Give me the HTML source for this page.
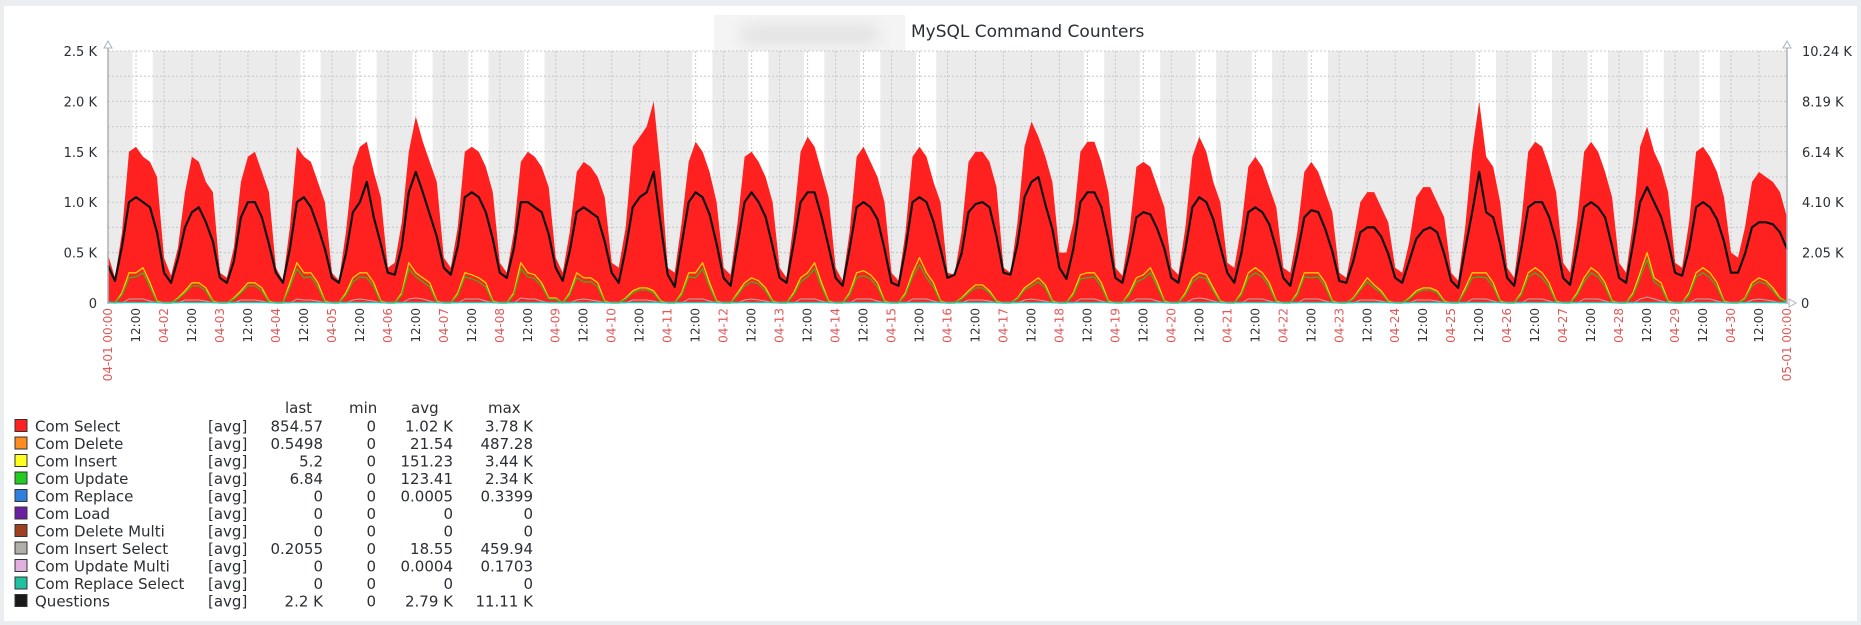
<!DOCTYPE html>
<html><head><meta charset="utf-8"><style>
html,body{margin:0;padding:0;background:#ebeef0;}
svg{display:block;font-family:"DejaVu Sans","Liberation Sans",sans-serif;}
</style></head><body>
<svg id="chart" width="1861" height="625" viewBox="0 0 1861 625">
<defs><filter id="blur" x="-20%" y="-50%" width="140%" height="200%"><feGaussianBlur stdDeviation="8"/></filter></defs>
<rect x="4" y="6" width="1853" height="615" fill="#ffffff"/>
<g>
<rect x="714" y="15" width="191" height="40" fill="#f4f4f4"/>
<rect x="740" y="25" width="140" height="20" rx="10" fill="#e2e2e2" filter="url(#blur)"/>
</g>
<text x="911" y="37" font-size="17" fill="#2a2f33">MySQL Command Counters</text>
<g id="bg"></g>
<g id="grid"></g>
<g id="series"></g>
<g id="axes"></g>
<g id="legend"></g>
</svg>
<script>
// ---- data (values in K) sampled every 3 hours from 04-01 00:00 ----
const selectVals=[
.48,.25,.7,1.5,1.55,1.45,1.4,1.25, .45,.27,.55,1.1,1.45,1.4,1.2,1.1, .3,.25,.55,1.2,1.45,1.5,1.3,1.1,
.35,.22,.75,1.55,1.45,1.4,1.2,1.0, .3,.22,.7,1.35,1.55,1.6,1.3,1.05, .35,.4,.8,1.5,1.85,1.6,1.4,1.2,
.45,.35,.75,1.5,1.55,1.5,1.35,1.1, .4,.3,.7,1.4,1.5,1.45,1.35,1.15, .45,.3,.7,1.3,1.4,1.35,1.25,1.05,
.4,.35,.75,1.55,1.65,1.75,2.0,1.3, .35,.3,.8,1.4,1.6,1.5,1.3,1.0, .35,.28,.8,1.45,1.5,1.4,1.25,1.0,
.35,.25,.8,1.5,1.65,1.55,1.3,1.05, .35,.22,.7,1.45,1.55,1.4,1.25,1.0, .3,.22,.7,1.45,1.55,1.45,1.2,1.0,
.3,.28,.7,1.4,1.5,1.5,1.4,1.15, .35,.3,.8,1.55,1.8,1.65,1.45,1.2, .5,.5,.8,1.5,1.6,1.6,1.4,1.1,
.35,.27,.7,1.35,1.4,1.35,1.15,.95, .35,.28,.75,1.45,1.65,1.5,1.2,1.0, .4,.35,.75,1.35,1.45,1.35,1.15,.95,
.35,.3,.7,1.3,1.4,1.3,1.1,.9, .3,.25,.6,1.0,1.1,1.1,.95,.8, .35,.3,.6,1.05,1.15,1.15,1.0,.85,
.3,.22,.75,1.5,2.0,1.45,1.35,1.0, .35,.25,.8,1.5,1.6,1.55,1.35,1.1, .4,.3,.8,1.5,1.6,1.5,1.3,1.05,
.4,.3,.8,1.55,1.75,1.5,1.35,1.1, .4,.35,.8,1.5,1.55,1.45,1.3,1.05, .5,.45,.75,1.2,1.3,1.25,1.2,1.1, .85];
const questionsVals=[
1.52,.90,2.3,4.10,4.30,4.10,3.89,2.87, 1.23,.82,1.8,3.07,3.69,3.89,3.28,2.5, 1.02,.82,1.7,3.48,4.10,4.10,3.48,2.4,
1.23,.82,2.2,4.10,4.30,3.89,3.1,2.2, 1.02,.82,2.0,3.69,4.10,4.92,3.48,2.4, 1.23,1.15,2.3,4.50,5.33,4.50,3.6,2.7,
1.43,1.15,2.3,4.30,4.50,4.30,3.69,2.6, 1.23,1.02,2.2,4.10,4.10,3.89,3.69,2.8, 1.43,.90,2.1,3.69,3.89,3.69,3.48,2.5,
1.23,.82,2.2,3.89,4.30,4.50,5.33,3.2, 1.15,.66,2.4,4.10,4.50,4.30,3.6,2.4, 1.02,.70,2.4,4.10,4.50,4.10,3.5,2.3,
1.02,.82,2.4,4.10,4.50,4.50,3.5,2.3, 1.02,.70,2.2,3.89,4.10,3.89,3.4,2.2, .82,.70,2.2,4.10,4.30,4.10,3.3,2.2,
1.02,1.15,2.0,3.69,4.02,4.10,3.89,2.7, 1.23,1.15,2.4,4.30,4.92,5.12,4.0,3.0, 1.43,.98,2.2,4.10,4.50,4.50,3.89,2.6,
1.02,.82,2.0,3.48,3.69,3.60,3.0,2.2, 1.02,.82,2.2,3.89,4.30,4.10,3.4,2.3, 1.23,.82,2.0,3.69,3.89,3.69,3.2,2.2,
1.02,.70,2.0,3.48,3.77,3.69,3.0,2.1, .90,.82,1.7,2.87,3.07,3.07,2.7,2.0, 1.02,.82,1.7,2.6,2.95,3.07,2.87,2.0,
.90,.61,2.2,3.69,5.33,3.69,3.48,2.4, 1.02,.70,2.2,3.89,4.10,4.10,3.5,2.5, 1.02,.74,2.2,3.89,4.10,3.89,3.48,2.3,
1.02,.82,2.4,4.10,4.71,4.10,3.5,2.5, 1.23,1.11,2.2,3.89,4.10,3.89,3.4,2.5, 1.23,1.23,2.0,3.07,3.28,3.28,3.20,2.87, 2.2];
const insertVals=[
.01,0,.1,.3,.3,.35,.2,.02, 0,0,.05,.12,.2,.2,.15,.02, 0,0,.05,.12,.2,.2,.15,.02,
0,0,.2,.4,.3,.3,.2,.02, 0,0,.1,.25,.3,.3,.2,.02, 0,0,.1,.4,.3,.25,.2,.02,
0,0,.1,.3,.28,.25,.2,.02, 0,0,.1,.4,.3,.28,.2,.05, .05,0,.1,.3,.25,.25,.2,.02,
0,0,.05,.12,.15,.15,.12,.02, 0,0,.1,.3,.3,.4,.2,.02, 0,0,.1,.2,.25,.22,.15,.02,
0,0,.1,.25,.3,.4,.2,.02, 0,0,.1,.3,.32,.28,.2,.02, 0,0,.1,.3,.45,.3,.2,.02,
0,0,.05,.12,.18,.18,.12,.02, 0,0,.05,.15,.2,.25,.18,.02, 0,0,.1,.28,.3,.3,.2,.02,
0,0,.1,.25,.28,.35,.2,.02, 0,0,.1,.25,.3,.28,.15,.02, 0,0,.1,.3,.35,.3,.2,.02,
0,0,.1,.3,.3,.3,.2,.02, 0,0,.05,.15,.25,.18,.12,.02, 0,0,.05,.12,.15,.15,.12,.02,
0,0,.15,.3,.3,.3,.2,.02, 0,0,.1,.3,.35,.3,.2,.02, 0,0,.1,.25,.35,.3,.2,.02,
0,0,.1,.3,.5,.25,.2,.02, 0,0,.1,.3,.35,.3,.2,.02, 0,0,.05,.2,.25,.22,.15,.05, .01];
const updateVals=[
.01,0,.08,.25,.26,.3,.16,.01, 0,0,.04,.1,.17,.17,.12,.01, 0,0,.04,.1,.17,.17,.12,.01,
0,0,.16,.34,.25,.26,.16,.01, 0,0,.08,.21,.26,.25,.16,.01, 0,0,.08,.34,.26,.21,.16,.01,
0,0,.08,.26,.24,.21,.16,.01, 0,0,.08,.34,.26,.24,.17,.04, .04,0,.08,.25,.21,.21,.16,.01,
0,0,.04,.1,.13,.13,.1,.01, 0,0,.08,.26,.25,.34,.16,.01, 0,0,.08,.17,.21,.19,.12,.01,
0,0,.08,.21,.26,.34,.16,.01, 0,0,.08,.25,.27,.24,.16,.01, 0,0,.08,.26,.38,.25,.16,.01,
0,0,.04,.1,.15,.15,.1,.01, 0,0,.04,.13,.17,.21,.15,.01, 0,0,.08,.24,.25,.26,.16,.01,
0,0,.08,.21,.24,.3,.16,.01, 0,0,.08,.21,.26,.24,.12,.01, 0,0,.08,.25,.3,.26,.16,.01,
0,0,.08,.26,.25,.26,.16,.01, 0,0,.04,.13,.21,.15,.1,.01, 0,0,.04,.1,.13,.13,.1,.01,
0,0,.12,.25,.26,.25,.16,.01, 0,0,.08,.26,.3,.25,.16,.01, 0,0,.08,.21,.3,.26,.16,.01,
0,0,.08,.25,.43,.21,.16,.01, 0,0,.08,.26,.3,.25,.16,.01, 0,0,.04,.17,.21,.19,.12,.04, .01];
const insertSelectVals=[
0,0,0,.04,.04,.04,.02,0, 0,0,0,.03,.03,.03,.02,0, 0,0,0,.03,.03,.03,.02,0, 0,0,0,.04,.03,.03,.02,0,
0,0,0,.03,.04,.03,.02,0, 0,0,0,.04,.05,.04,.02,0, 0,0,0,.04,.04,.04,.02,0, 0,0,0,.05,.04,.04,.02,0,
0,0,0,.03,.04,.03,.02,0, 0,0,0,.03,.03,.03,.02,0, 0,0,0,.04,.04,.04,.02,0, 0,0,0,.03,.04,.03,.02,0,
0,0,0,.04,.04,.04,.02,0, 0,0,0,.04,.04,.04,.02,0, 0,0,0,.04,.04,.04,.02,0, 0,0,0,.03,.03,.03,.02,0,
0,0,0,.03,.04,.03,.02,0, 0,0,0,.04,.04,.04,.02,0, 0,0,0,.04,.04,.04,.02,0, 0,0,0,.04,.05,.04,.02,0,
0,0,0,.04,.04,.04,.02,0, 0,0,0,.04,.04,.04,.02,0, 0,0,0,.03,.03,.03,.02,0, 0,0,0,.03,.03,.03,.02,0,
0,0,0,.04,.04,.04,.02,0, 0,0,0,.04,.04,.04,.02,0, 0,0,0,.04,.04,.04,.02,0, 0,0,0,.04,.06,.04,.02,0,
0,0,0,.04,.04,.04,.02,0, 0,0,0,.03,.04,.03,.02,0, 0];
const workDays=[0,3,4,5,6,7,10,11,12,13,14,17,18,19,20,21,24,25,26,27,28];
const leftTicks=["0","0.5 K","1.0 K","1.5 K","2.0 K","2.5 K"];
const rightTicks=["0","2.05 K","4.10 K","6.14 K","8.19 K","10.24 K"];
const dayLabels=["04-01 00:00","04-02","04-03","04-04","04-05","04-06","04-07","04-08","04-09","04-10","04-11","04-12","04-13","04-14","04-15","04-16","04-17","04-18","04-19","04-20","04-21","04-22","04-23","04-24","04-25","04-26","04-27","04-28","04-29","04-30","05-01 00:00"];
const legendNames=["Com Select","Com Delete","Com Insert","Com Update","Com Replace","Com Load","Com Delete Multi","Com Insert Select","Com Update Multi","Com Replace Select","Questions"];
const legendColors=["#ff2020","#ff8c20","#ffff20","#20cc20","#3080e0","#6a20a0","#a04020","#b0b0a8","#e0b0e0","#20c0a0","#1a1a1a"];
const legendLast=["854.57","0.5498","5.2","6.84","0","0","0","0.2055","0","0","2.2 K"];
const legendMin=["0","0","0","0","0","0","0","0","0","0","0"];
const legendAvg=["1.02 K","21.54","151.23","123.41","0.0005","0","0","18.55","0.0004","0","2.79 K"];
const legendMax=["3.78 K","487.28","3.44 K","2.34 K","0.3399","0","0","459.94","0.1703","0","11.11 K"];

const NS="http://www.w3.org/2000/svg";
const X0=108,X1=1787,Y0=303,Y1=51,HOURS=720,STEP=3;
const LMAX=2.5,RMAX=10.24;
const xScale=h=>X0+h*(X1-X0)/HOURS;
const yLeft=v=>Y0-v*(Y0-Y1)/LMAX;
const yRight=v=>Y0-v*(Y0-Y1)/RMAX;
function mk(tag,attrs,parent){const e=document.createElementNS(NS,tag);for(const k in attrs)e.setAttribute(k,attrs[k]);parent.appendChild(e);return e;}
const bg=document.getElementById('bg'),grid=document.getElementById('grid'),ser=document.getElementById('series'),axes=document.getElementById('axes'),leg=document.getElementById('legend');

let r=mk('rect',{x:X0,y:Y1,width:X1-X0,height:Y0-Y1,fill:'#ebebeb'},bg);


workDays.forEach(d=>{
  const b=mk('rect',{x:xScale(d*24+10.5),y:Y1,width:xScale(d*24+19.2)-xScale(d*24+10.5),height:Y0-Y1,fill:'#ffffff'},bg);
  
  
});
for(let i=1;i<=10;i++){
  const y=Y0-i*(Y0-Y1)/10;
  const l=mk('line',{x1:X0,x2:X1,y1:y,y2:y,stroke:'#c4c8cc','stroke-width':1,'stroke-dasharray':'2,2'},grid);
  
  
}
for(let i=1;i<60;i++){
  const x=xScale(i*12);
  const l=mk('line',{x1:x,x2:x,y1:Y1,y2:Y0,stroke:'#c4c8cc','stroke-width':1,'stroke-dasharray':'2,2'},grid);
  
  
}
function pts(arr,ys){return arr.map((v,i)=>xScale(Math.min(i*STEP,HOURS)).toFixed(1)+','+ys(v).toFixed(1));}
const area=mk('polygon',{points:[X0+','+Y0].concat(pts(selectVals,yLeft),[xScale(Math.min((selectVals.length-1)*STEP,HOURS))+','+Y0]).join(' '),fill:'#ff2020'},ser);


const defs=[[insertSelectVals,'#b8b0a8',1,'com-insert-select-line',yLeft],[insertVals,'#ffd000',1.3,'com-insert-line',yLeft],[updateVals,'#40b020',1.3,'com-update-line',yLeft],[questionsVals,'#111111',2.2,'questions-line',yRight]];
defs.forEach(d=>{
  const p=mk('polyline',{points:pts(d[0],d[4]).join(' '),fill:'none',stroke:d[1],'stroke-width':d[2],'stroke-linejoin':'round'},ser);
  
  
});
const base=mk('line',{x1:X0,x2:X1,y1:Y0-0.5,y2:Y0-0.5,stroke:'#30c0b0','stroke-width':1.5},ser);



[[X0,'left-y-axis'],[X1,'right-y-axis']].forEach(a=>{
  const l=mk('line',{x1:a[0],x2:a[0],y1:Y1-8,y2:Y0+1,stroke:'#a8b4bc','stroke-width':1.5},axes);
  
  
  const t=mk('polygon',{points:(a[0]-4)+','+(Y1-3)+' '+(a[0]+4)+','+(Y1-3)+' '+a[0]+','+(Y1-10),fill:'#fff',stroke:'#a8b4bc'},axes);
  
  
});
const xa=mk('polygon',{points:(X1+2)+','+(Y0-4)+' '+(X1+2)+','+(Y0+4)+' '+(X1+9)+','+Y0,fill:'#fff',stroke:'#a8b4bc'},axes);


leftTicks.forEach((t,i)=>{
  const e=mk('text',{x:97,y:yLeft(i*0.5)+5,'font-size':13,fill:'#2a2f33','text-anchor':'end'},axes);
  e.textContent=t;
  
  
});
rightTicks.forEach((t,i)=>{
  const e=mk('text',{x:i===0?1801:1802,y:yLeft(i*0.5)+5,'font-size':13,fill:'#2a2f33'},axes);
  e.textContent=t;
  
  
});
for(let i=0;i<=60;i++){
  const x=xScale(i*12)+4;
  const isDay=i%2===0;
  const e=mk('text',{x:0,y:0,'font-size':12,fill:isDay?'#e05858':'#333','text-anchor':'end',transform:'translate('+x.toFixed(1)+',308) rotate(-90)'},axes);
  e.textContent=isDay?dayLabels[i/2]:'12:00';
  
  
}
const hdr=[['last',285],['min',349],['avg',411],['max',488]];
hdr.forEach(h=>{
  const e=mk('text',{x:h[1],y:413,'font-size':15,fill:'#2a2f33'},leg);
  e.textContent=h[0];
  
  
});
legendNames.forEach((n,i)=>{
  const cy=426+i*17.5;
  const g=mk('g',{},leg);
  
  
  const sw=mk('rect',{x:15,y:cy-6.5,width:12,height:12,fill:legendColors[i],stroke:'#333','stroke-width':1},g);
  
  
  const cols=[[n,35,'start'],['[avg]',208,'start'],[legendLast[i],323,'end'],[legendMin[i],376,'end'],[legendAvg[i],453,'end'],[legendMax[i],533,'end']];
  cols.forEach((c,j)=>{
    const t=mk('text',{x:c[1],y:cy+5.5,'font-size':15,fill:'#2a2f33','text-anchor':c[2]},g);
    t.textContent=c[0];
    
    
  });
});
</script>
</body></html>
